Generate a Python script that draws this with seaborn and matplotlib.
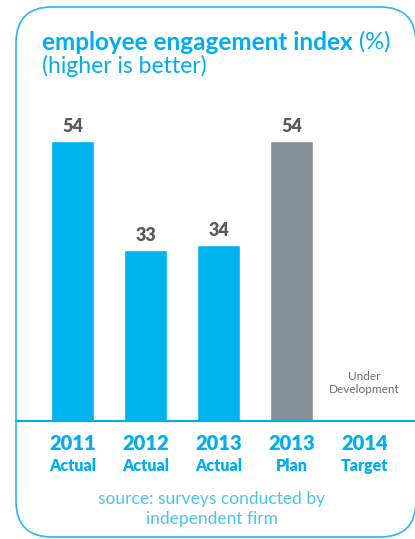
import matplotlib
matplotlib.use("Agg")
import matplotlib.pyplot as plt
import matplotlib.transforms as mtransforms
from matplotlib.patches import FancyBboxPatch
import seaborn as sns
import pandas as pd
import numpy as np

# ---- data ----
years = ["2011", "2012", "2013", "2013", "2014"]
kinds = ["Actual", "Actual", "Actual", "Plan", "Target"]
values = [54, 33, 34, 54, np.nan]
bar_colors = ["#00b5ef", "#00b5ef", "#00b5ef", "#848f96", "#00b5ef"]
title_bold = "employee engagement index"
title_unit = " (%)"
subtitle = "(higher is better)"
source_text = "source: surveys conducted by\nindependent firm"
pending_text = "Under\nDevelopment"

BLUE = "#00aeef"
LIGHTBLUE = "#4cc3ef"
GRAY = "#58595b"

sns.set_theme(style="white")
plt.rcParams['font.family'] = ['Lato', 'DejaVu Sans']

W, H = 415, 539
fig = plt.figure(figsize=(W / 100, H / 100), dpi=100)
ax = fig.add_axes([16 / W, (H - 421) / H, (415 - 16) / W, 311 / H])

cats = [f"{y} {k}" for y, k in zip(years, kinds)]
df = pd.DataFrame({"cat": cats, "value": values})
sns.barplot(data=df, x="cat", y="value", hue="cat", palette=bar_colors,
            legend=False, width=0.59, saturation=1, ax=ax, dodge=False)

ax.set_xlim(-0.774, 4.692)
ax.set_ylim(0, 60)
ax.set_xlabel("")
ax.set_ylabel("")
ax.set_xticks(range(len(cats)))
ax.set_xticklabels([""] * len(cats))
ax.set_yticks([])
ax.tick_params(length=0)
for s in ["top", "right", "left"]:
    ax.spines[s].set_visible(False)
ax.spines["bottom"].set_color(BLUE)
ax.spines["bottom"].set_linewidth(1.5)

# value labels
for i, v in enumerate(values):
    if not np.isnan(v):
        ax.annotate(f"{v:.0f}", (i, v), xytext=(0, 4.5), textcoords="offset points",
                    ha="center", va="bottom", fontsize=13, fontweight="heavy",
                    color=GRAY)
    else:
        ax.text(i, 7.3, pending_text, ha="center", va="center", fontsize=8.5,
                color="#6d6e71", linespacing=1.25)

# category labels
trans = mtransforms.blended_transform_factory(ax.transData, ax.transAxes)
for i, (y, k) in enumerate(zip(years, kinds)):
    ax.text(i, -22 / 311, y, transform=trans, ha="center", va="center",
            fontsize=14.5, fontweight="heavy", color=BLUE)
    ax.text(i, -45 / 311, k, transform=trans, ha="center", va="center",
            fontsize=11.5, fontweight="heavy", color=BLUE)

# titles
t1 = fig.text(42 / W, 1 - 42 / H, title_bold, ha="left", va="center",
              fontsize=17.5, fontweight="bold", color=BLUE)
fig.canvas.draw()
bb = t1.get_window_extent()
fig.text(bb.x1 / W, 1 - 42 / H, title_unit, ha="left", va="center",
         fontsize=17, color=BLUE)
fig.text(42 / W, 1 - 66 / H, subtitle, ha="left", va="center",
         fontsize=16.5, color=BLUE)

fig.text(212 / W, 1 - 509 / H, source_text, ha="center", va="center",
         fontsize=12.5, color=LIGHTBLUE, linespacing=1.25)

# rounded border
box = FancyBboxPatch((16, H - 537), 400, 530,
                     boxstyle="round,pad=0,rounding_size=36",
                     transform=mtransforms.IdentityTransform(),
                     fill=False, edgecolor="#29b6f0", linewidth=1.2)
fig.patches.append(box)

fig.savefig("out.png", dpi=100)
